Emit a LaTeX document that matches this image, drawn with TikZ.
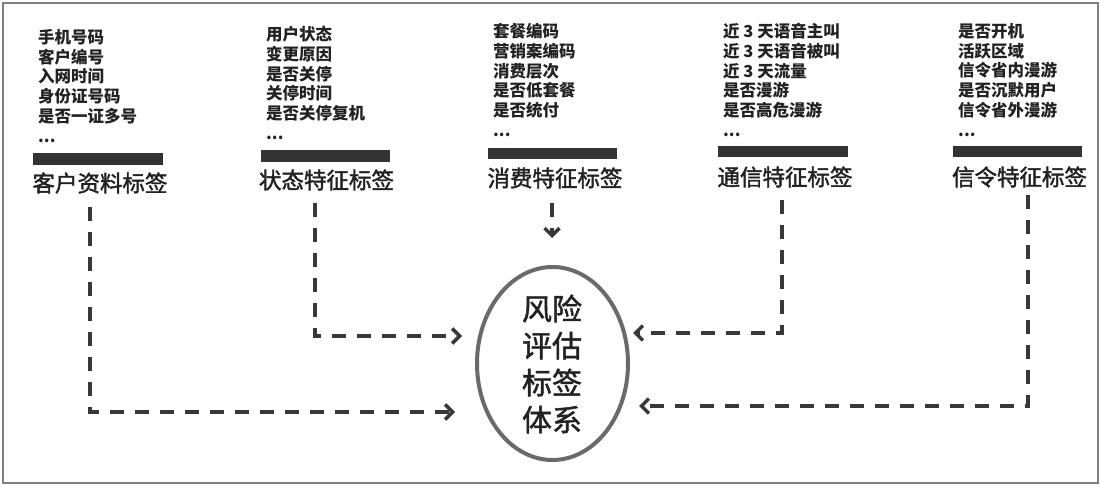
\documentclass[tikz,border=0pt]{standalone}
\usepackage{fontspec}
\setmainfont{Noto Sans CJK SC}
\newfontfamily\tagfont{Noto Sans CJK SC}[FakeBold=1.8]
\newfontfamily\ellfont{Noto Sans CJK SC}[FakeBold=1.4]
\usetikzlibrary{arrows.meta,shapes.geometric}
\definecolor{framegray}{HTML}{808080}
\definecolor{bargray}{HTML}{333333}
\definecolor{conngray}{HTML}{383838}
\definecolor{ellgray}{HTML}{6A6A6A}
\definecolor{txt}{HTML}{222222}
\begin{document}
\begin{tikzpicture}[x=1pt,y=-1pt,
  items/.style={anchor=north west,inner sep=0pt,align=left,text=txt,
    font=\bfseries\fontsize{16.5}{19.8}\selectfont},
  tag/.style={inner sep=0pt,text=txt,font=\tagfont\fontsize{22.5}{26}\selectfont},
  bar/.style={fill=bargray,draw=none},
  conn/.style={draw=conngray,line width=3.4pt,dash pattern=on 14pt off 11pt,
    -{Straight Barb[length=7.5pt,width=15pt]}}]
\useasboundingbox (0,0) rectangle (1101,486);
\fill[white] (0,0) rectangle (1101,486);
\draw[framegray,line width=1.5pt] (3,3) rectangle (1098,483);

% item lists
\node[items] (i1) at (38,29) {手机号码\\客户编号\\入网时间\\身份证号码\\是否一证多号\\...};
\node[items] (i2) at (266,26) {用户状态\\变更原因\\是否关停\\关停时间\\是否关停复机\\...};
\node[items] (i3) at (493,23) {套餐编码\\营销案编码\\消费层次\\是否低套餐\\是否统付\\...};
\node[items] (i4) at (723,23) {近 3 天语音主叫\\近 3 天语音被叫\\近 3 天流量\\是否漫游\\是否高危漫游\\...};
\node[items] (i5) at (958,23) {是否开机\\活跃区域\\信令省内漫游\\是否沉默用户\\信令省外漫游\\...};

% bars
\fill[bar] (33,153) rectangle (163,165);
\fill[bar] (261,150) rectangle (390,162);
\fill[bar] (488,148) rectangle (617,159);
\fill[bar] (718,146) rectangle (848,157);
\fill[bar] (953,146) rectangle (1082,157);

% tag labels
\node[tag] (t1) at (100,183) {客户资料标签};
\node[tag] (t2) at (326.5,180) {状态特征标签};
\node[tag] (t3) at (555,178) {消费特征标签};
\node[tag] (t4) at (785,177) {通信特征标签};
\node[tag] (t5) at (1019.5,177) {信令特征标签};

% central ellipse
\node[ellipse,draw=ellgray,line width=4pt,minimum width=151pt,minimum height=193pt,inner sep=0pt] (risk) at (552.5,363.5) {};
\node[inner sep=0pt,align=center,text=txt,font=\ellfont\fontsize{30}{37}\selectfont] (risktxt) at (552,364) {风险\\评估\\标签\\体系};

% connector ends
\coordinate (c1s) at (90,207);   \coordinate (c1t) at (455,412);
\coordinate (c2s) at (315,203);  \coordinate (c2t) at (462,336);
\coordinate (c3s) at (552,203);  \coordinate (c3t) at (552,238);
\coordinate (c4s) at (782,200);  \coordinate (c4t) at (633,333);
\coordinate (c5s) at (1028,195); \coordinate (c5t) at (639,406);

\draw[conn] (c1s) |- (c1t);
\draw[conn] (c2s) |- (c2t);
\draw[conn] (c3s) -- (c3t);
\draw[conn] (c4s) |- (c4t);
\draw[conn] (c5s) |- (c5t);
\end{tikzpicture}
\end{document}
